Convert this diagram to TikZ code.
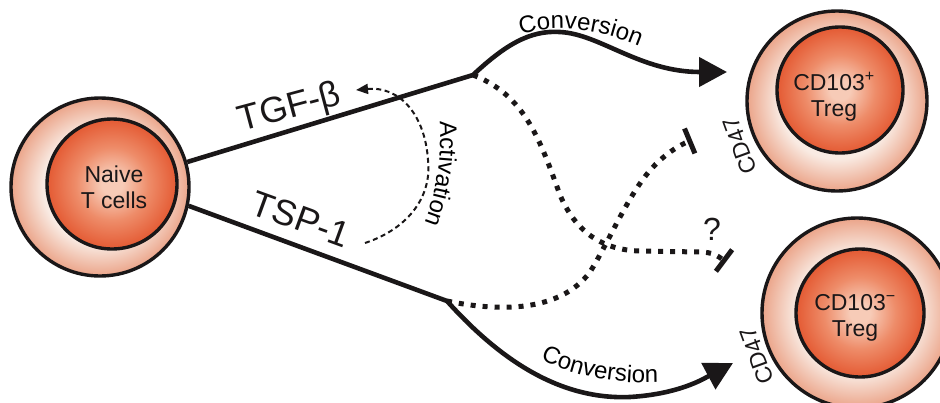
\documentclass[tikz,border=0pt]{standalone}
\usepackage{fontspec}
\setmainfont{Liberation Sans}
\usetikzlibrary{arrows.meta,decorations.text}

\definecolor{cellcore}{HTML}{F7CBB7}
\definecolor{cellmid}{HTML}{EE8C69}
\definecolor{cellrim}{HTML}{E45A33}
\definecolor{ringlight}{HTML}{F9EBE3}
\definecolor{ringdark}{HTML}{EBA489}
\definecolor{ink}{HTML}{1A1718}

% shading radii: 25bp is the edge of the shaded circle
\pgfdeclareradialshading{cellnucleus}{\pgfpoint{0bp}{0bp}}{color(0bp)=(cellcore); color(4bp)=(cellcore); color(14bp)=(cellmid); color(25bp)=(cellrim); color(50bp)=(cellrim)}
\pgfdeclareradialshading{cellbody}{\pgfpoint{0bp}{0bp}}{color(0bp)=(ringlight); color(16bp)=(ringlight); color(25bp)=(ringdark); color(50bp)=(ringdark)}

\begin{document}
\begin{tikzpicture}[x=1pt,y=1pt,
  cellbody/.style={circle, draw=ink, line width=3.4pt, shade, shading=cellbody, inner sep=0pt},
  nucleus/.style={circle, draw=ink, line width=3.4pt, shade, shading=cellnucleus, inner sep=0pt},
  celltext/.style={font=\fontsize{23}{26}\selectfont, align=center, text=ink},
  siglabel/.style={font=\fontsize{36}{36}\selectfont, text=ink, inner sep=0pt},
  marker/.style={font=\fontsize{23}{23}\selectfont, text=ink, inner sep=0pt},
  route/.style={draw=ink, line width=4.6pt, line join=round},
  dotroute/.style={draw=ink, line width=5pt, dash pattern=on 5pt off 7pt},
  actroute/.style={draw=ink, line width=2pt, dash pattern=on 5pt off 3.5pt},
  bigtip/.style={-{Triangle[length=28pt,width=29pt]}},
  blocktip/.style={-{Bar[width=27pt,line width=5pt]}},
]
\useasboundingbox (0,0) rectangle (940,-402);

% cells
\node[cellbody, minimum size=178pt] (naivebody) at (100,-187) {};
\node[nucleus, minimum size=130pt] (naive) at (112,-184) {};
\node[celltext] (naivetext) at (114,-187) {Naive\\T cells};

\node[cellbody, minimum size=180pt] (posbody) at (837,-101) {};
\node[nucleus, minimum size=126pt] (pos) at (840,-90) {};
\node[celltext] (postext) at (834,-97) {CD103\textsuperscript{+}\\Treg};

\node[cellbody, minimum size=190pt] (negbody) at (857,-313) {};
\node[nucleus, minimum size=128pt] (neg) at (860,-313) {};
\node[celltext] (negtext) at (855,-318) {CD103\textsuperscript{−}\\Treg};

% receptor labels
\node[marker, rotate=110] (cdtop) at (740,-146) {CD47};
\node[marker, rotate=110] (cdlow) at (757,-356) {CD47};

% branch points and arrow ends
\coordinate (tgfsplit) at (473,-75);
\coordinate (tspsplit) at (447,-301);
\coordinate (tophead) at (727,-72);
\coordinate (lowhead) at (733,-363);
\coordinate (blockhi) at (692,-140);
\coordinate (blocklo) at (726,-262);
\coordinate (actstart) at (365,-243);
\coordinate (actend) at (356,-90);

% signals
\node[siglabel, rotate=15] (tgflabel) at (290,-109) {TGF-β};
\node[siglabel, rotate=-20] (tsplabel) at (301,-219) {TSP-1};

% conversion routes
\draw[route, bigtip] (naivebody.16) -- (tgfsplit)
  .. controls (505,-45) and (530,-30) .. (560,-32)
  .. controls (600,-34) and (640,-72) .. (tophead);
\draw[route, bigtip] (naivebody.-12) -- (tspsplit)
  .. controls (500,-360) and (560,-400) .. (630,-397)
  .. controls (680,-394) and (705,-378) .. (lowhead);

% inhibitory routes
\draw[dotroute, blocktip] (tgfsplit)
  .. controls (525,-95) and (540,-140) .. (560,-195)
  .. controls (575,-230) and (600,-250) .. (640,-251)
  -- (700,-252) .. controls (712,-252) and (718,-256) .. (blocklo);
\draw[dotroute, blocktip] (tspsplit)
  .. controls (500,-312) and (560,-312) .. (590,-272)
  .. controls (610,-240) and (630,-190) .. (655,-165)
  .. controls (668,-152) and (680,-145) .. (blockhi);
\node[font=\fontsize{32}{32}\selectfont, text=ink] (query) at (712,-229) {?};

% activation loop
\draw[actroute, -{Triangle[length=12pt,width=10pt]}] (actstart)
  .. controls (410,-228) and (432,-195) .. (428,-160)
  .. controls (425,-115) and (400,-86) .. (actend);

% curved captions
\path[decorate, decoration={text along path, text align=center,
  text={|\fontsize{24}{24}\selectfont|Conversion}}]
  (512,-38) .. controls (545,-24) and (590,-24) .. (648,-50);
\path[decorate, decoration={text along path, text align=center,
  text={|\fontsize{24}{24}\selectfont|Conversion}}]
  (530,-354) .. controls (565,-374) and (610,-386) .. (670,-382);
\path[decorate, decoration={text along path, text align=center,
  text={|\fontsize{24}{24}\selectfont|Activation}}]
  (439,-110) .. controls (442,-150) and (440,-190) .. (420,-234);
\end{tikzpicture}
\end{document}
